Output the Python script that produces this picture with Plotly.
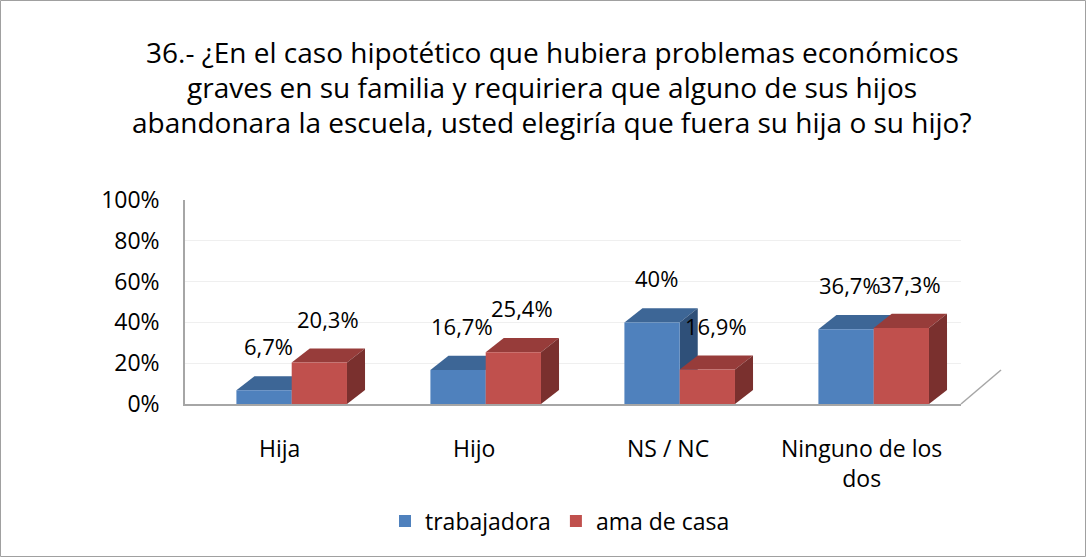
import plotly.graph_objects as go

categories = ["Hija", "Hijo", "NS / NC", "Ninguno de los<br>dos"]
trabajadora = [6.7, 16.7, 40.0, 36.7]
ama_de_casa = [20.3, 25.4, 16.9, 37.3]
labels_trab = ["6,7%", "16,7%", "40%", "36,7%"]
labels_ama = ["20,3%", "25,4%", "16,9%", "37,3%"]
y_ticks = [0, 20, 40, 60, 80, 100]
y_ticktext = ["0%", "20%", "40%", "60%", "80%", "100%"]
title_lines = [
    "36.- ¿En el caso hipotético que hubiera problemas económicos",
    "graves en su familia y requiriera que alguno de sus hijos",
    "abandonara la escuela, usted elegiría que fuera su hija o su hijo?",
]

FONT = "Open Sans"
W, H = 1088, 559
ML, MR, MT, MB = 185, 127, 200, 155
PW, PH = W - ML - MR, H - MT - MB


def px_x(px):
    return (px - ML) / PW


def px_y(py):
    return (H - MB - py) / PH


BW = 0.285      # bar width (x units)
DX = 0.093      # depth in x units
DY = 6.9        # depth in y units

series = [
    ("trabajadora", trabajadora, labels_trab, -BW, "#4F81BD", "#3D6696", "#2F5079", 4),
    ("ama de casa", ama_de_casa, labels_ama, 0.0, "#C0504D", "#973C3A", "#7A302E", 9),
]

xs = list(range(len(categories)))
fig = go.Figure()
shapes = []
annotations = []

for name, vals, labs, off, front, top, side, lshift in series:
    fig.add_trace(go.Bar(
        x=xs, y=vals, name=name, width=BW, offset=off,
        marker=dict(color=front, line=dict(width=0)),
        hoverinfo="skip",
    ))
    for xi, v, lab in zip(xs, vals, labs):
        x0 = xi + off
        x1 = x0 + BW
        shapes.append(dict(
            type="path", xref="x", yref="y", layer="between",
            path=f"M {x0},{v} L {x1},{v} L {x1+DX},{v+DY} L {x0+DX},{v+DY} Z",
            fillcolor=top, line=dict(width=0),
        ))
        shapes.append(dict(
            type="path", xref="x", yref="y", layer="between",
            path=f"M {x1},0 L {x1},{v} L {x1+DX},{v+DY} L {x1+DX},{DY} Z",
            fillcolor=side, line=dict(width=0),
        ))
        annotations.append(dict(
            x=(x0 + x1) / 2, y=v, xref="x", yref="y",
            text=lab, showarrow=False, yanchor="bottom", yshift=27, xshift=lshift,
            font=dict(family=FONT, size=22, color="#000000"),
        ))

# category labels (shifted left as in the perspective view)
for xi, cat in zip(xs, categories):
    annotations.append(dict(
        x=xi, y=px_y(430), xref="x", yref="paper", xshift=-12,
        text=cat, showarrow=False, xanchor="center", yanchor="top",
        font=dict(family=FONT, size=23, color="#000000"),
    ))

for i, line in enumerate(title_lines):
    annotations.append(dict(
        x=px_x(552), y=px_y(52 + 35 * i), xref="paper", yref="paper",
        text=line, showarrow=False, xanchor="center", yanchor="middle",
        font=dict(family=FONT, size=28, color="#000000"),
    ))

# floor right edge
shapes.append(dict(type="line", xref="x domain", yref="y domain",
                   x0=1, y0=0, x1=1 + 40 / PW, y1=34 / PH,
                   line=dict(color="#A6A6A6", width=1.5)))
# outer chart border
shapes.append(dict(type="rect", xref="paper", yref="paper",
                   x0=px_x(0.5), x1=px_x(W - 2.5),
                   y0=px_y(H - 2.5), y1=px_y(0.5),
                   line=dict(color="#A0A0A0", width=1), layer="below"))

fig.update_layout(
    width=W, height=H,
    margin=dict(l=ML, r=MR, t=MT, b=MB, autoexpand=False),
    paper_bgcolor="white", plot_bgcolor="white",
    font=dict(family=FONT, size=23, color="#000000"),
    xaxis=dict(
        range=[-0.55, 3.45], tickvals=xs, showticklabels=False,
        showgrid=False, zeroline=False, showline=True,
        linecolor="#A6A6A6", linewidth=1.5, ticks="", automargin=False,
    ),
    yaxis=dict(
        range=[0, 100], tickvals=y_ticks, ticktext=y_ticktext,
        showgrid=True, gridcolor="#EFEFEF", gridwidth=1,
        zeroline=False, showline=True, linecolor="#A6A6A6", linewidth=1.5,
        ticks="", ticklabelstandoff=19, automargin=False,
        tickfont=dict(family=FONT, size=23, color="#000000"),
    ),
    legend=dict(
        orientation="h", xref="container", yref="container",
        x=560 / W, xanchor="center", y=1 - 521 / H, yanchor="middle",
        font=dict(family=FONT, size=23, color="#000000"),
        itemwidth=30, traceorder="normal",
    ),
    shapes=shapes,
    annotations=annotations,
    showlegend=True,
)

fig.write_html(
    "out.html",
    config={"displayModeBar": False},
    post_script="document.body.style.margin='0';document.body.style.overflow='hidden';",
)
